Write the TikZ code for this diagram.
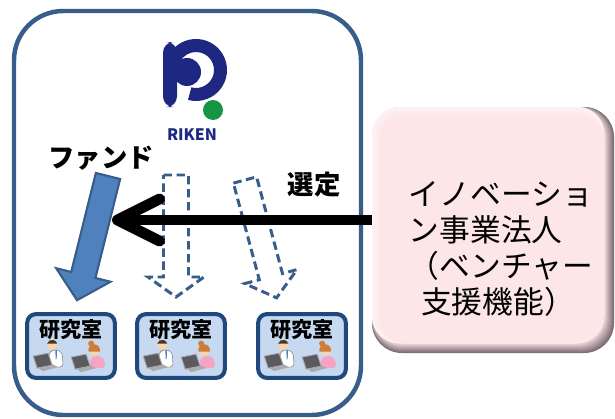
\documentclass[tikz,border=0pt]{standalone}
\usepackage{fontspec}
\newfontfamily\jpfont{Noto Sans CJK JP}
\definecolor{frameblue}{RGB}{56,93,138}
\definecolor{fundblue}{RGB}{79,129,189}
\definecolor{labline}{RGB}{31,73,125}
\definecolor{labfill}{RGB}{198,217,241}
\definecolor{logoblue}{RGB}{30,40,130}
\definecolor{logogreen}{RGB}{20,150,70}
\definecolor{venturepink}{RGB}{252,230,232}
\definecolor{ventureshade}{RGB}{125,108,114}
\definecolor{skin}{RGB}{250,212,170}
\definecolor{manhair}{RGB}{70,55,40}
\definecolor{womanhair}{RGB}{205,125,55}
\definecolor{shirt}{RGB}{245,165,195}
\definecolor{laptop}{RGB}{90,90,95}
\definecolor{laptoprim}{RGB}{170,170,175}
\usepackage{tikz}
\usetikzlibrary{arrows.meta}
\usetikzlibrary{positioning}
\tikzstyle{base}=[x=0.02cm, y=-0.02cm, inner sep=0pt, outer sep=0pt]
\tikzstyle{bigframe}=[draw=frameblue, line width=2.55pt, rounded corners=28pt]
\tikzstyle{labbox}=[draw=labline, fill=labfill, line width=2.3pt, rounded corners=5pt,
    minimum width=49.9pt, minimum height=36.3pt]
\tikzstyle{labtitle}=[font=\jpfont\bfseries\fontsize{12}{12}\selectfont]
\tikzstyle{biglabel}=[font=\jpfont\bfseries\fontsize{15}{15}\selectfont]
\tikzstyle{venturetext}=[font=\jpfont\fontsize{17.5}{20.4}\selectfont, align=left]
\tikzstyle{rikenlabel}=[font=\jpfont\bfseries\fontsize{9}{9}\selectfont, text=logoblue]
\tikzstyle{fundarrow}=[fill=fundblue, draw=frameblue, line width=1.2pt]
\tikzstyle{dasharrow}=[fill=white, draw=frameblue, line width=1.7pt, dash pattern=on 4.8pt off 2.6pt]
\tikzstyle{selectarrow}=[line width=6.2pt, -{Straight Barb[length=24pt, width=24pt, round]}]

% two researchers at their laptops
\tikzset{
  staff/.pic={
    % man in a white coat
    \filldraw[fill=white, draw=black!45, line width=0.35pt, rounded corners=2pt]
        (21,53) -- (22,38) -- (28,35) -- (35,38) -- (36,53) -- cycle;
    \fill[fundblue] (28.2,36) -- (29.8,36) -- (29.5,45) -- (28.5,45) -- cycle;
    \fill[skin] (25,31) circle (5);
    \fill[manhair] ([shift={(195:5.3)}]25,31) arc[start angle=195, end angle=345, radius=5.3] -- cycle;
    \fill[laptoprim] (10,53) -- (25,50) -- (31,53) -- (16,57) -- cycle;
    \filldraw[fill=laptop, draw=laptoprim, line width=0.5pt] (6,42) -- (21,39) -- (25,51) -- (10,54) -- cycle;
    % woman in a pink shirt
    \fill[shirt, rounded corners=2pt] (62,54) -- (63,44) -- (70,41) -- (77,44) -- (78,54) -- cycle;
    \fill[skin] (67,36) circle (5.5);
    \fill[womanhair] ([shift={(165:5.8)}]67,36) arc[start angle=165, end angle=375, radius=5.8] -- cycle;
    \fill[womanhair] (64,29.5) circle (3);
    \fill[laptoprim] (48,54) -- (63,51) -- (69,54) -- (54,58) -- cycle;
    \filldraw[fill=laptop, draw=laptoprim, line width=0.5pt] (44,43) -- (59,40) -- (63,52) -- (48,55) -- cycle;
  }
}

\begin{document}
\begin{tikzpicture}[base]
    \path [use as bounding box] (0,0) rectangle (615,419);

    % institute frame
    \draw [bigframe] (14,11) rectangle (361,415);

    % logo
    \fill [logoblue, rounded corners=6pt] (163,42) rectangle (177,107);
    \fill [logoblue] ([shift={(-172:31)}]196,70) arc[start angle=-172, end angle=105, radius=31]
        -- ([shift={(105:18)}]196,70) arc[start angle=105, end angle=-172, radius=18] -- cycle;
    \fill [logoblue] (187,72) circle (14);
    \fill [logogreen] (213,110) circle (10);
    \node [rikenlabel] (rikenname) at (192,135) {RIKEN};

    % labels
    \node [biglabel] (fundlabel) at (101,158) {ファンド};
    \node [biglabel] (selectlabel) at (314,185) {選定};

    % funding arrow and candidates
    \begin{scope}[shift={(108,176)}, rotate=-14]
        \draw [fundarrow] (-12.5,0) -- (12.5,0) -- (12.5,102) -- (28,102) -- (0,128)
            -- (-28,102) -- (-12.5,102) -- cycle;
    \end{scope}
    \begin{scope}[shift={(176,175)}]
        \draw [dasharrow] (-12.5,0) -- (12.5,0) -- (12.5,102) -- (28,102) -- (0,122)
            -- (-28,102) -- (-12.5,102) -- cycle;
    \end{scope}
    \begin{scope}[shift={(245,180)}, rotate=15]
        \draw [dasharrow] (-12,0) -- (12,0) -- (12,100) -- (27,100) -- (0,122)
            -- (-27,100) -- (-12,100) -- cycle;
    \end{scope}

    % laboratories
    \foreach \name/\x in {lab1/71, lab2/181, lab3/302} {
        \node [labbox] (\name) at (\x,346) {};
        \node [labtitle] at ([yshift=-9pt]\name.north) {研究室};
        \pic at (\name.north west) {staff};
    }

    % selection arrow
    \coordinate (ventureedge) at (385,220);
    \coordinate (fundhit) at (112,220);
    \draw [selectarrow] (ventureedge) -- (fundhit);

    % venture support box
    \foreach \i in {0,...,10} {
        \pgfmathtruncatemacro\mix{\i*10}
        \fill [venturepink!\mix!ventureshade, rounded corners=17pt]
            (372,107) rectangle ({614-\i},{353-\i});
    }
    \foreach \j in {0,...,8} {
        \pgfmathtruncatemacro\mix{45+\j*6.8}
        \fill [venturepink!\mix!white, rounded corners=15pt]
            ({372+\j},{107+\j}) rectangle (604,343);
    }
    \node [venturetext] (venture) at (501,249)
        {イノベーショ\\ン事業法人\\（ベンチャー\\\hspace{0.4em}支援機能）};
\end{tikzpicture}
\end{document}
